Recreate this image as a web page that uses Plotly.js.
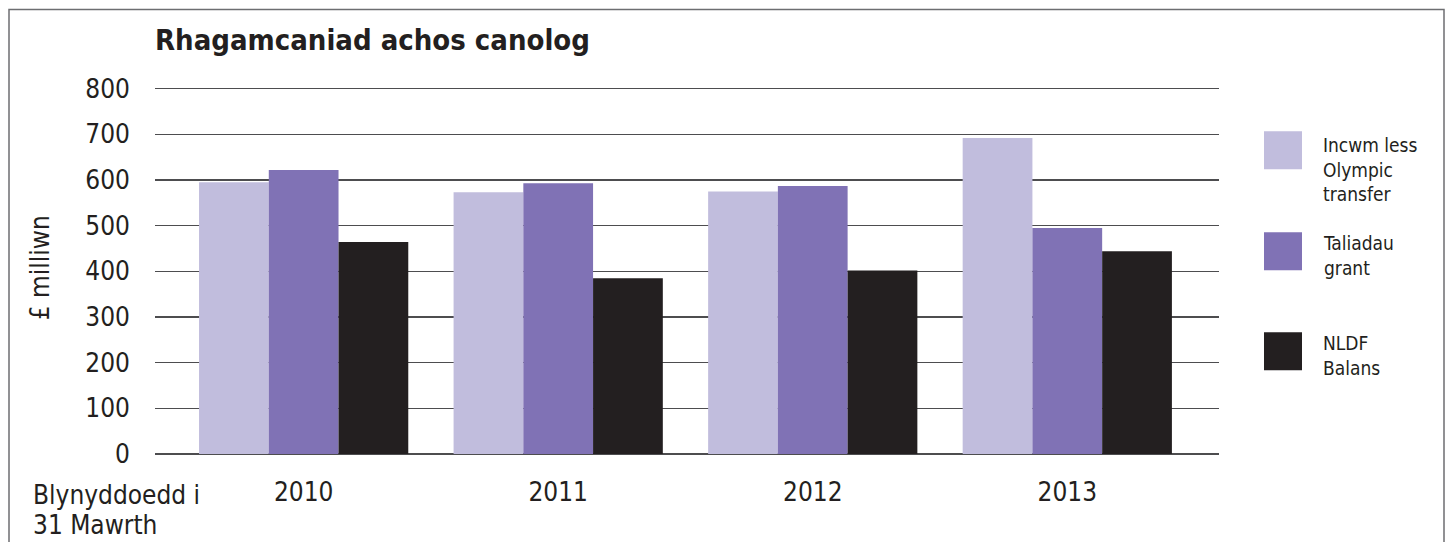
<!DOCTYPE html>
<html>
<head>
<meta charset="utf-8">
<script src="https://cdn.plot.ly/plotly-3.0.1.min.js"></script>
<style>html,body{margin:0;padding:0;background:#fff;}#chart{width:1451px;height:542px;}</style>
</head>
<body>
<div id="chart"></div>
<script>
// ---- data ----
const years = ["2010", "2011", "2012", "2013"];
const seriesNames = ["Incwm less<br>Olympic<br>transfer", "Taliadau<br>grant", "NLDF<br>Balans"];
const incwm = [595, 573, 575, 692];
const taliadau = [622, 593, 587, 495];
const balans = [464, 385, 402, 444];
const yTicks = [0, 100, 200, 300, 400, 500, 600, 700, 800];

const colors = ["#c1bddd", "#8072b5", "#231f20"];
const FONT = '"Liberation Sans Narrow", "DejaVu Sans Condensed", "Arial Narrow", sans-serif';

// plot area geometry (pixels)
const W = 1451, H = 542;
const YMAX = 808;
const L = 155, R = 1219, B = 453.8;
const unit = (453.8 - 88.3) / 800;
const T = B - YMAX * unit;
const pw = R - L, ph = B - T;
const px = x => (x - L) / pw;
const py = y => (B - y) / ph;

const allVals = [incwm, taliadau, balans];
const traces = allVals.map((v, i) => ({
  type: "bar",
  x: years,
  y: v,
  name: seriesNames[i],
  marker: {color: colors[i], line: {width: 0}},
  showlegend: false,
  hoverinfo: "x+y"
}));

// custom legend
const legendTop = [131, 232, 332];
const shapes = [];
const annotations = [];
seriesNames.forEach((n, i) => {
  shapes.push({type: "rect", xref: "paper", yref: "paper",
    x0: px(1264), x1: px(1302), y0: py(legendTop[i] + 38), y1: py(legendTop[i]),
    fillcolor: colors[i], line: {width: 0}});
  annotations.push({xref: "paper", yref: "paper", x: px(1321), y: py(legendTop[i] + (i === 0 ? 1 : -2)),
    xanchor: "left", yanchor: "top", align: "left", showarrow: false, text: n,
    font: {family: FONT, size: 19, color: "#231f20"}});
});
// frame
shapes.push({type: "rect", xref: "paper", yref: "paper",
  x0: px(9), x1: px(1444), y0: py(560), y1: py(9),
  line: {color: "#6d6e71", width: 1.5}, fillcolor: "rgba(0,0,0,0)", layer: "below"});

annotations.push({xref: "paper", yref: "paper", x: px(40), y: py(268),
  xanchor: "center", yanchor: "middle", textangle: -90, showarrow: false,
  text: "£ milliwn", font: {family: FONT, size: 26, color: "#231f20"}});
annotations.push({xref: "paper", yref: "paper", x: px(31), y: py(478),
  xanchor: "left", yanchor: "top", showarrow: false,
  text: "Blynyddoedd i", font: {family: FONT, size: 26, color: "#231f20"}});
annotations.push({xref: "paper", yref: "paper", x: px(31), y: py(508),
  xanchor: "left", yanchor: "top", showarrow: false,
  text: "31 Mawrth", font: {family: FONT, size: 26, color: "#231f20"}});

const layout = {
  width: W, height: H,
  margin: {l: L, r: W - R, t: T, b: H - B, pad: 0},
  paper_bgcolor: "#ffffff",
  plot_bgcolor: "#ffffff",
  title: {text: "<b>Rhagamcaniad achos canolog</b>", xref: "paper", x: 0, xanchor: "left",
    yref: "container", y: 1 - 40 / H, yanchor: "middle",
    font: {family: FONT, size: 29, color: "#231f20"}},
  barmode: "group",
  bargap: 0.178,
  bargroupgap: 0,
  xaxis: {type: "category", range: [-0.584, 3.596], showgrid: false, zeroline: false,
    showline: false, ticks: "", ticklabelstandoff: 20,
    tickfont: {family: FONT, size: 26, color: "#231f20"}, fixedrange: true},
  yaxis: {range: [0, YMAX], tickvals: yTicks, ticktext: yTicks.map(String),
    showgrid: true, gridcolor: "#4d4d4f", gridwidth: 1.5,
    zeroline: true, zerolinecolor: "#4d4d4f", zerolinewidth: 1.5,
    showline: false, ticks: "", ticklabelstandoff: 24,
    tickfont: {family: FONT, size: 26, color: "#231f20"}, fixedrange: true},
  shapes: shapes,
  annotations: annotations,
  showlegend: false
};

Plotly.newPlot("chart", traces, layout, {displayModeBar: false, staticPlot: true});
</script>
</body>
</html>
